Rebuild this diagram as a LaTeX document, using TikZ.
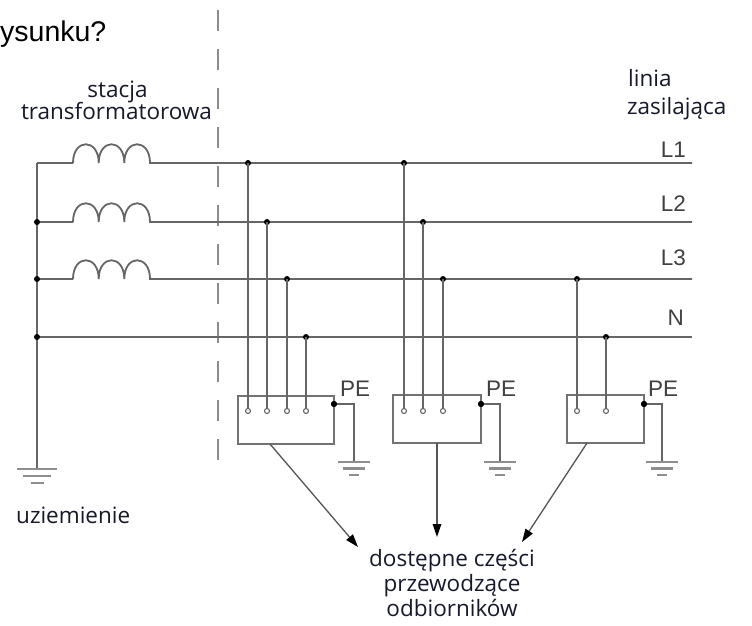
\documentclass[tikz,border=0pt]{standalone}
\usepackage{fontspec}
\setmainfont{Open Sans}
\newfontfamily\arialf{Liberation Sans}
\usetikzlibrary{arrows.meta}
\definecolor{wirec}{HTML}{666666}
\definecolor{boxc}{HTML}{727272}
\definecolor{dashc}{HTML}{8C8C8C}
\definecolor{gndc}{HTML}{8E8E8E}
\definecolor{labc}{HTML}{404040}
\definecolor{txtc}{HTML}{16192B}
\definecolor{arrc}{HTML}{555555}
\tikzset{
  wire/.style={draw=wirec,line width=1.8pt},
  dashline/.style={draw=dashc,line width=1.7pt,dash pattern=on 21pt off 18pt},
  jdot/.style={circle,fill=black,inner sep=0pt,minimum size=6pt},
  term/.style={circle,draw=wirec,fill=white,line width=1.1pt,inner sep=0pt,minimum size=5pt},
  loadbox/.style={draw=boxc,line width=1.7pt,inner sep=0pt,rectangle},
  lab/.style={font=\arialf\fontsize{22.5}{24}\selectfont,text=labc,inner sep=0pt},
  txt/.style={font=\fontsize{22.5}{25}\selectfont,text=txtc,inner sep=0pt,align=center},
  gnd/.style={draw=gndc,line width=2.2pt},
  arr/.style={draw=arrc,line width=1.3pt,-{Triangle[length=13pt,width=8.5pt,color=black]}},
  ground/.pic={\draw[gnd] (-16,0)--(16,0); \draw[gnd] (-11,6.5)--(11,6.5); \draw[gnd] (-5,13)--(5,13);},
  bigground/.pic={\draw[gnd] (-20,0)--(20,0); \draw[gnd] (-14,7)--(14,7); \draw[gnd] (-6.5,14)--(6.5,14);},
}
\newcommand\coilpath[1]{(73,#1) .. controls (73,#1-25) and (98.7,#1-25) .. (98.7,#1) .. controls (98.7,#1-25) and (124.3,#1-25) .. (124.3,#1) .. controls (124.3,#1-25) and (150,#1-25) .. (150,#1)}
\begin{document}
\begin{tikzpicture}[x=1pt,y=-1pt]
\useasboundingbox (0,0) rectangle (752,626);
\fill[white] (0,0) rectangle (752,626);

% title fragment
\node[font=\arialf\fontsize{28.5}{30}\selectfont,text=black,inner sep=0pt,anchor=base west] (ttl) at (0,42) {ysunku?};

% labels
\node[txt,anchor=base] (st1) at (117.5,97) {stacja};
\node[txt,anchor=base] (st2) at (116.5,119) {transformatorowa};
\node[txt,anchor=base west] (ln1) at (628,86) {linia};
\node[txt,anchor=base west] (ln2) at (627,114) {zasilająca};
\node[lab,anchor=base east] (lL1) at (686,157) {L1};
\node[lab,anchor=base east] (lL2) at (686,211) {L2};
\node[lab,anchor=base east] (lL3) at (686,265) {L3};
\node[lab,anchor=base east] (lN) at (684,325) {N};
\node[txt,anchor=base west] (uz) at (16,523) {uziemienie};
\node[txt,anchor=north] (odb) at (452,549) {dostępne części\\przewodzące\\odbiorników};

% separation dashed line
\coordinate (dtop) at (218,10);
\coordinate (dbot) at (218,462);
\draw[dashline] (dtop) -- (dbot);

% line end coordinates
\coordinate (a1) at (37,163); \coordinate (e1) at (692,163);
\coordinate (a2) at (37,222); \coordinate (e2) at (692,222);
\coordinate (a3) at (37,279); \coordinate (e3) at (692,279);
\coordinate (aN) at (37,337); \coordinate (eN) at (692,337);
\coordinate (g0) at (37,469);

% transformer windings and lines
\draw[wire] (a1) -- (73,163) \coilpath{163} -- (e1);
\draw[wire] (a2) -- (73,222) \coilpath{222} -- (e2);
\draw[wire] (a3) -- (73,279) \coilpath{279} -- (e3);
\draw[wire] (aN) -- (eN);
\draw[wire] (a1) -- (g0);
\pic at (g0) {bigground};

% load boxes
\node[loadbox,minimum width=96pt,minimum height=48pt] (box1) at (286,420) {};
\node[loadbox,minimum width=88pt,minimum height=48pt] (box2) at (437,419) {};
\node[loadbox,minimum width=77pt,minimum height=48pt] (box3) at (605.5,419) {};

% junctions on the lines
\node[jdot] (j2) at (a2) {};
\node[jdot] (j3) at (a3) {};
\node[jdot] (jN) at (aN) {};
\node[jdot] (b1L1) at (248,163) {};
\node[jdot] (b1L2) at (267,222) {};
\node[jdot] (b1L3) at (287,279) {};
\node[jdot] (b1N) at (306,337) {};
\node[jdot] (b2L1) at (404,163) {};
\node[jdot] (b2L2) at (423,222) {};
\node[jdot] (b2L3) at (443,279) {};
\node[jdot] (b3L3) at (577,279) {};
\node[jdot] (b3N) at (606,337) {};

% terminals
\node[term] (t11) at (248,411) {};
\node[term] (t12) at (267,411) {};
\node[term] (t13) at (287,411) {};
\node[term] (t14) at (306,411) {};
\node[term] (t21) at (404,411) {};
\node[term] (t22) at (423,411) {};
\node[term] (t23) at (443,411) {};
\node[term] (t31) at (577,411) {};
\node[term] (t32) at (606,411) {};

\draw[wire] (b1L1.center) -- (t11);
\draw[wire] (b1L2.center) -- (t12);
\draw[wire] (b1L3.center) -- (t13);
\draw[wire] (b1N.center) -- (t14);
\draw[wire] (b2L1.center) -- (t21);
\draw[wire] (b2L2.center) -- (t22);
\draw[wire] (b2L3.center) -- (t23);
\draw[wire] (b3L3.center) -- (t31);
\draw[wire] (b3N.center) -- (t32);

% PE connections
\node[jdot] (pe1) at (334,404) {};
\node[jdot] (pe2) at (481,404) {};
\node[jdot] (pe3) at (644,404) {};
\coordinate (g1) at (354,462);
\coordinate (g2) at (500,462);
\coordinate (g3) at (662,462);
\draw[wire] (pe1.center) -| (g1);
\draw[wire] (pe2.center) -| (g2);
\draw[wire] (pe3.center) -| (g3);
\pic at (g1) {ground};
\pic at (g2) {ground};
\pic at (g3) {ground};
\node[jdot] at (pe1) {};
\node[jdot] at (pe2) {};
\node[jdot] at (pe3) {};
\node[lab,anchor=base west] (pel1) at (340,396) {PE};
\node[lab,anchor=base west] (pel2) at (486,396) {PE};
\node[lab,anchor=base west] (pel3) at (648,396) {PE};

% arrows to the exposed conductive parts
\coordinate (s1) at (270,444);
\coordinate (s2) at (437,443);
\coordinate (s3) at (587,443);
\coordinate (k1) at (358,547);
\coordinate (k2) at (437,537);
\coordinate (k3) at (522,542);
\draw[arr] (s1) -- (k1);
\draw[arr] (s2) -- (k2);
\draw[arr] (s3) -- (k3);
\end{tikzpicture}
\end{document}
